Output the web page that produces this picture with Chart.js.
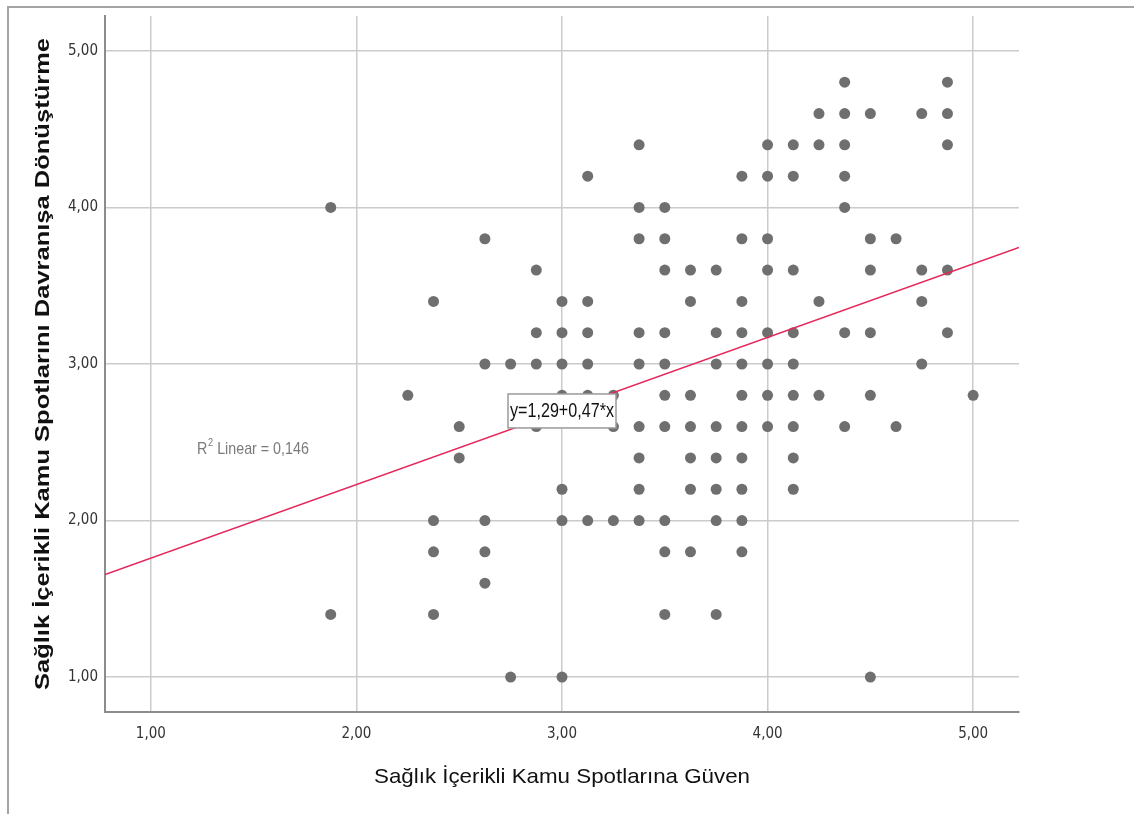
<!DOCTYPE html>
<html>
<head>
<meta charset="utf-8">
<title>Scatter</title>
<script src="https://cdn.jsdelivr.net/npm/chart.js@4.4.1/dist/chart.umd.min.js"></script>
<style>
  html, body { margin: 0; padding: 0; background: #fff; }
  #wrap { position: relative; width: 1134px; height: 814px; }
</style>
</head>
<body>
<div id="wrap"><canvas id="scatterChart"></canvas></div>
<script>
// trust in health PSAs (x) vs turning them into behaviour (y), one entry per dot
const trustScores = [
  1.875, 1.875,
  2.25,
  2.375, 2.375, 2.375, 2.375,
  2.5, 2.5,
  2.625, 2.625, 2.625, 2.625, 2.625,
  2.75, 2.75,
  2.875, 2.875, 2.875, 2.875,
  3.0, 3.0, 3.0, 3.0, 3.0, 3.0, 3.0,
  3.125, 3.125, 3.125, 3.125, 3.125, 3.125,
  3.25, 3.25, 3.25,
  3.375, 3.375, 3.375, 3.375, 3.375, 3.375, 3.375, 3.375, 3.375,
  3.5, 3.5, 3.5, 3.5, 3.5, 3.5, 3.5, 3.5, 3.5, 3.5,
  3.625, 3.625, 3.625, 3.625, 3.625, 3.625, 3.625,
  3.75, 3.75, 3.75, 3.75, 3.75, 3.75, 3.75, 3.75,
  3.875, 3.875, 3.875, 3.875, 3.875, 3.875, 3.875, 3.875, 3.875, 3.875, 3.875,
  4.0, 4.0, 4.0, 4.0, 4.0, 4.0, 4.0, 4.0,
  4.125, 4.125, 4.125, 4.125, 4.125, 4.125, 4.125, 4.125, 4.125,
  4.25, 4.25, 4.25, 4.25,
  4.375, 4.375, 4.375, 4.375, 4.375, 4.375, 4.375,
  4.5, 4.5, 4.5, 4.5, 4.5, 4.5,
  4.625, 4.625,
  4.75, 4.75, 4.75, 4.75,
  4.875, 4.875, 4.875, 4.875, 4.875,
  5.0
];
const behaviourScores = [
  4.0, 1.4,
  2.8,
  3.4, 2.0, 1.8, 1.4,
  2.6, 2.4,
  3.8, 3.0, 2.0, 1.8, 1.6,
  3.0, 1.0,
  3.6, 3.2, 3.0, 2.6,
  3.4, 3.2, 3.0, 2.8, 2.2, 2.0, 1.0,
  4.2, 3.4, 3.2, 3.0, 2.8, 2.0,
  2.8, 2.6, 2.0,
  4.4, 4.0, 3.8, 3.2, 3.0, 2.6, 2.4, 2.2, 2.0,
  4.0, 3.8, 3.6, 3.2, 3.0, 2.8, 2.6, 2.0, 1.8, 1.4,
  3.6, 3.4, 2.8, 2.6, 2.4, 2.2, 1.8,
  3.6, 3.2, 3.0, 2.6, 2.4, 2.2, 2.0, 1.4,
  4.2, 3.8, 3.4, 3.2, 3.0, 2.8, 2.6, 2.4, 2.2, 2.0, 1.8,
  4.4, 4.2, 3.8, 3.6, 3.2, 3.0, 2.8, 2.6,
  4.4, 4.2, 3.6, 3.2, 3.0, 2.8, 2.6, 2.4, 2.2,
  4.6, 4.4, 3.4, 2.8,
  4.8, 4.6, 4.4, 4.2, 4.0, 3.2, 2.6,
  4.6, 3.8, 3.6, 3.2, 2.8, 1.0,
  3.8, 2.6,
  4.6, 3.6, 3.4, 3.0,
  4.8, 4.6, 4.4, 3.6, 3.2,
  2.8
];
const tickValues = [1, 2, 3, 4, 5];
const axisMin = 0.777;
const axisMax = 5.223;

// SPSS fit line and its labels
const fitIntercept = 1.29;
const fitSlope = 0.47;
const fitLabel = 'y=1,29+0,47*x';
const fitLabelAtX = 3.0;
const rSquaredText = ' Linear = 0,146';
const rSquaredAt = { x: 1.224, y: 2.455 };

const xTitle = 'Sağlık İçerikli Kamu Spotlarına Güven';
const yTitle = 'Sağlık İçerikli Kamu Spotlarını Davranışa Dönüştürme';

const fitY = x => fitIntercept + fitSlope * x;
const commaFmt = v => Number(v).toFixed(2).replace('.', ',');

// draw text squeezed/stretched to a given width (the picture is not 1:1)
function fittedText(ctx, text, font, cx, cy, width, rot) {
  ctx.save();
  ctx.font = font;
  const w = ctx.measureText(text).width;
  ctx.translate(cx, cy);
  ctx.rotate(rot || 0);
  ctx.scale(width / w, 1);
  ctx.textAlign = 'center';
  ctx.textBaseline = 'middle';
  ctx.fillText(text, 0, 0);
  ctx.restore();
}

const decor = {
  id: 'decor',
  beforeDraw(chart) {
    const ctx = chart.ctx;
    ctx.save();
    ctx.fillStyle = '#fff';
    ctx.fillRect(0, 0, chart.width, chart.height);
    // outer frame, top and left only
    ctx.strokeStyle = '#a4a4a4';
    ctx.lineWidth = 2;
    ctx.beginPath();
    ctx.moveTo(chart.width, 7);
    ctx.lineTo(8, 7);
    ctx.lineTo(8, chart.height);
    ctx.stroke();
    ctx.restore();
  },
  afterDatasetsDraw(chart) {
    const ctx = chart.ctx;
    const xs = chart.scales.x, ys = chart.scales.y;

    // R² label
    ctx.save();
    ctx.fillStyle = '#7a7a7a';
    ctx.textBaseline = 'middle';
    ctx.translate(xs.getPixelForValue(rSquaredAt.x), ys.getPixelForValue(rSquaredAt.y));
    ctx.scale(0.84, 1);
    ctx.font = '17px "Liberation Sans", Arial, sans-serif';
    ctx.fillText('R', 0, 0);
    let off = ctx.measureText('R').width + 1;
    ctx.font = '11px "Liberation Sans", Arial, sans-serif';
    ctx.fillText('2', off, -6);
    off += ctx.measureText('2').width;
    ctx.font = '17px "Liberation Sans", Arial, sans-serif';
    ctx.fillText(rSquaredText, off, 0);
    ctx.restore();

    // equation box sitting on the line
    const cx = xs.getPixelForValue(fitLabelAtX);
    const cy = ys.getPixelForValue(fitY(fitLabelAtX));
    const textW = 104, boxW = 108, boxH = 34;
    ctx.save();
    ctx.fillStyle = '#fff';
    ctx.strokeStyle = '#9a9a9a';
    ctx.lineWidth = 1.5;
    ctx.fillRect(cx - boxW / 2, cy - boxH / 2, boxW, boxH);
    ctx.strokeRect(cx - boxW / 2, cy - boxH / 2, boxW, boxH);
    ctx.fillStyle = '#111';
    fittedText(ctx, fitLabel, '20px "Liberation Sans", Arial, sans-serif', cx, cy + 1, textW);
    ctx.restore();
  },
  afterDraw(chart) {
    const ctx = chart.ctx;
    const a = chart.chartArea;
    ctx.save();
    ctx.fillStyle = '#111';
    fittedText(ctx, xTitle, '21px "Liberation Sans", Arial, sans-serif', (a.left + a.right) / 2, 777, 376);
    fittedText(ctx, yTitle, 'bold 20px "Liberation Sans", Arial, sans-serif', 43, (a.top + a.bottom) / 2, 652, -Math.PI / 2);
    ctx.restore();
  }
};

const tickFont = { family: '"Liberation Sans Narrow", "DejaVu Sans Condensed", "Liberation Sans", sans-serif', size: 15 };
const gridStyle = { color: '#cbcbcb', lineWidth: 1.5, drawTicks: false };
const borderStyle = { color: '#8c8c8c', width: 2 };

new Chart(document.getElementById('scatterChart'), {
  type: 'scatter',
  data: {
    datasets: [
      {
        type: 'line',
        label: 'fit',
        data: [axisMin, axisMax].map(x => ({ x: x, y: fitY(x) })),
        borderColor: '#e6265a',
        borderWidth: 1.6,
        pointRadius: 0,
        fill: false,
        order: 0
      },
      {
        label: 'dots',
        data: trustScores.map((x, i) => ({ x: x, y: behaviourScores[i] })),
        pointStyle: 'circle',
        pointRadius: 5.5,
        pointBorderWidth: 0,
        pointBackgroundColor: '#6f6f6f',
        order: 1
      }
    ]
  },
  options: {
    responsive: true,
    maintainAspectRatio: false,
    animation: false,
    layout: { padding: { top: 15, right: 115, left: 0, bottom: 0 } },
    plugins: { legend: { display: false }, tooltip: { enabled: false } },
    scales: {
      x: {
        type: 'linear',
        min: axisMin,
        max: axisMax,
        afterBuildTicks: s => { s.ticks = tickValues.map(v => ({ value: v })); },
        afterFit: s => { s.height = 102; },
        grid: gridStyle,
        border: borderStyle,
        ticks: { color: '#333', font: tickFont, padding: 13, maxRotation: 0, callback: commaFmt }
      },
      y: {
        type: 'linear',
        min: axisMin,
        max: axisMax,
        afterBuildTicks: s => { s.ticks = tickValues.map(v => ({ value: v })); },
        afterFit: s => { s.width = 105; },
        grid: gridStyle,
        border: borderStyle,
        ticks: { color: '#333', font: tickFont, padding: 7, callback: commaFmt }
      }
    }
  },
  plugins: [decor]
});
</script>
</body>
</html>
